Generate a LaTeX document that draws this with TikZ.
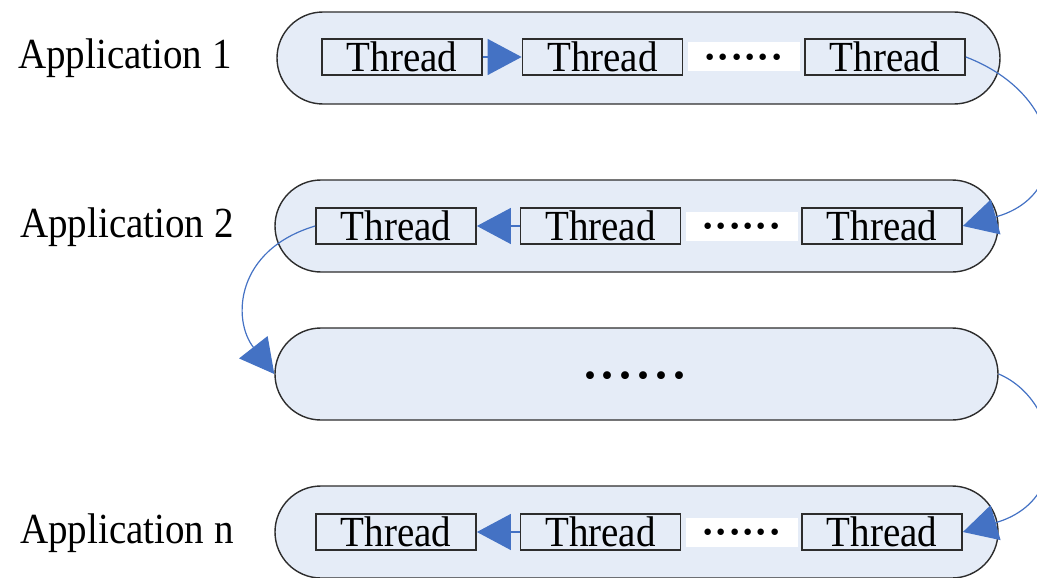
\documentclass[tikz,border=0pt]{standalone}
\usepackage{fontspec}
\setmainfont{Liberation Serif}
\usetikzlibrary{arrows.meta}
\definecolor{capfill}{RGB}{229,236,247}
\definecolor{edge}{RGB}{45,45,45}
\definecolor{flow}{RGB}{68,114,196}
\newcommand{\tallword}[1]{\scalebox{1}[1.1]{#1}}
\newcommand{\onedot}[1]{\makebox[#1]{\textperiodcentered}}
\newcommand{\sixdots}[1]{\onedot{#1}\onedot{#1}\onedot{#1}\onedot{#1}\onedot{#1}\onedot{#1}}
\tikzset{
  capsule/.style={draw=edge, line width=1.4pt, fill=capfill, rounded corners=46pt,
    minimum width=723pt, minimum height=92pt, inner sep=0pt},
  threadbox/.style={draw=edge, line width=1.8pt, fill=capfill, minimum width=160pt,
    minimum height=36pt, inner sep=0pt, font=\fontsize{39}{40}\selectfont},
  dotgap/.style={fill=white, minimum width=112pt, minimum height=29pt, inner sep=0pt},
  dotrow/.style={inner sep=0pt, yshift=-5pt, font=\fontsize{40}{40}\selectfont\bfseries},
  applabel/.style={anchor=west, inner sep=0pt, font=\fontsize{39}{40}\selectfont},
  link/.style={draw=flow, line width=1.2pt, -{Triangle[length=34pt,width=36pt]}},
}
\begin{document}
\begin{tikzpicture}[x=1pt,y=-1pt]
\useasboundingbox (0,0) rectangle (1037,578);

% application 1
\node[applabel] (l1) at (18,58) {\tallword{Application 1}};
\node[capsule] (c1) at (638.5,58) {};
\node[threadbox] (t11) at (402,57) {\tallword{Thread}};
\node[threadbox] (t12) at (602.5,57) {\tallword{Thread}};
\node[dotgap] (g1) at (743.5,57) {};
\node[dotrow] (d1) at (g1) {\sixdots{13.4pt}};
\node[threadbox] (t13) at (885,57) {\tallword{Thread}};
\draw[link] (t11.east) -- (t12.west);

% application 2
\node[applabel] (l2) at (20,227) {\tallword{Application 2}};
\node[capsule] (c2) at (636.5,226) {};
\node[threadbox] (t21) at (396,226) {\tallword{Thread}};
\node[threadbox] (t22) at (600.5,226) {\tallword{Thread}};
\node[dotgap] (g2) at (741.5,226) {};
\node[dotrow] (d2) at (g2) {\sixdots{13.4pt}};
\node[threadbox] (t23) at (882,226) {\tallword{Thread}};
\draw[link] (t22.west) -- (t21.east);

% the applications in between
\node[capsule] (c3) at (636.5,374) {};
\node[inner sep=0pt, yshift=-8pt, font=\fontsize{48}{48}\selectfont\bfseries] (d3) at (635,374) {\sixdots{18pt}};

% application n
\node[applabel] (l4) at (20,533) {\tallword{Application n}};
\node[capsule] (c4) at (636.5,532) {};
\node[threadbox] (t41) at (396,532) {\tallword{Thread}};
\node[threadbox] (t42) at (600.5,532) {\tallword{Thread}};
\node[dotgap] (g4) at (741.5,532) {};
\node[dotrow] (d4) at (g4) {\sixdots{13.4pt}};
\node[threadbox] (t43) at (882,532) {\tallword{Thread}};
\draw[link] (t42.west) -- (t41.east);

% hand-over from one application to the next
\draw[link] (t13.east) .. controls (1065,95) and (1075,195) .. (t23.east);
\draw[link] (t21.west) .. controls (235,250) and (232,320) .. (c3.west);
\draw[link] (c3.east) .. controls (1060,400) and (1075,500) .. (t43.east);
\end{tikzpicture}
\end{document}
